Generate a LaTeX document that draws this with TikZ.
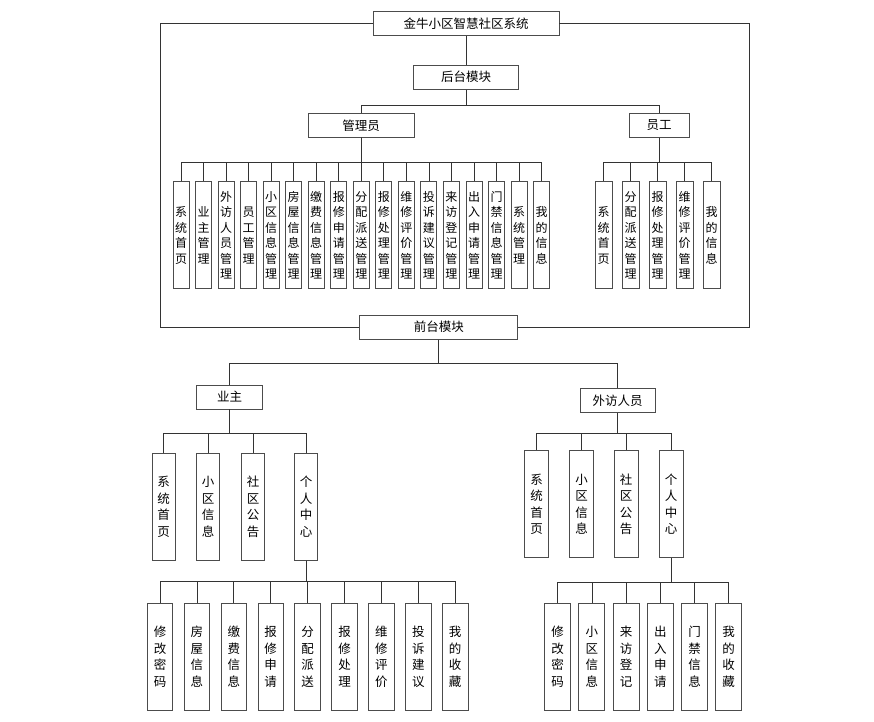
\documentclass[tikz,border=0pt]{standalone}
\usepackage{fontspec}
\setmainfont{Noto Sans CJK SC}
\usepackage{tikz}

\tikzset{
  box/.style={draw=black!70,line width=0.9pt,rectangle,inner sep=0pt,font=\fontsize{12.5}{14}\selectfont},
  vbox/.style={box,align=center,minimum height=107pt,font=\fontsize{12}{15.5}\selectfont},
  link/.style={draw=black!80,line width=0.8pt}
}

\begin{document}
\begin{tikzpicture}[x=1pt,y=-1pt]
\useasboundingbox (0,0) rectangle (874,721);
\node[box,minimum width=186pt,minimum height=24pt] (sys) at (466,23.3) {金牛小区智慧社区系统};
\node[box,minimum width=105pt,minimum height=24pt] (back) at (466,77.2) {后台模块};
\node[box,minimum width=106pt,minimum height=24pt] (adm) at (361,125.3) {管理员};
\node[box,minimum width=60pt,minimum height=24pt] (staff) at (659.2,125.3) {员工};
\node[box,minimum width=158pt,minimum height=24pt] (front) at (438.8,327.2) {前台模块};
\node[box,minimum width=66pt,minimum height=24pt] (owner) at (229.7,397) {业主};
\node[box,minimum width=75pt,minimum height=24pt] (visitor) at (617.5,400.8) {外访人员};

\coordinate (frameL) at (160,0);
\coordinate (frameR) at (749.3,0);
\draw[link] (sys.west) -| (frameL |- front.west) -- (front.west);
\draw[link] (sys.east) -| (frameR |- front.east) -- (front.east);
\draw[link] (sys.south) -- (back.north);
\draw[link] (back.south) -- ++(0,15.7) -| (adm.north);
\draw[link] (back.south) -- ++(0,15.7) -| (staff.north);
\draw[link] (front.south) -- ++(0,23.4) -| (owner.north);
\draw[link] (front.south) -- ++(0,23.4) -| (visitor.north);

\foreach \t [count=\i] in {系\\统\\首\\页,业\\主\\管\\理,外\\访\\人\\员\\管\\理,员\\工\\管\\理,
  小\\区\\信\\息\\管\\理,房\\屋\\信\\息\\管\\理,缴\\费\\信\\息\\管\\理,报\\修\\申\\请\\管\\理,
  分\\配\\派\\送\\管\\理,报\\修\\处\\理\\管\\理,维\\修\\评\\价\\管\\理,投\\诉\\建\\议\\管\\理,
  来\\访\\登\\记\\管\\理,出\\入\\申\\请\\管\\理,门\\禁\\信\\息\\管\\理,系\\统\\管\\理,我\\的\\信\\息}
{
    \node[vbox,minimum width=16pt] (a\i) at ({181+22.54*(\i-1)},235.4) {\t};
    \draw[link] (adm.south) -- ++(0,24.7) -| (a\i.north);
}

\foreach \t [count=\i] in {系\\统\\首\\页,分\\配\\派\\送\\管\\理,报\\修\\处\\理\\管\\理,维\\修\\评\\价\\管\\理,我\\的\\信\\息}
{
    \node[vbox,minimum width=17pt] (s\i) at ({603.7+27*(\i-1)},235.4) {\t};
    \draw[link] (staff.south) -- ++(0,25) -| (s\i.north);
}

\foreach \x/\t [count=\i] in {163.5/系\\统\\首\\页,208/小\\区\\信\\息,253/社\\区\\公\\告,306/个\\人\\中\\心}
{
    \node[vbox,minimum width=23pt,font=\fontsize{12.5}{16.5}\selectfont] (o\i) at (\x,506.8) {\t};
    \draw[link] (owner.south) -- ++(0,23.7) -| (o\i.north);
}

\foreach \x/\t [count=\i] in {536.5/系\\统\\首\\页,581.5/小\\区\\信\\息,626/社\\区\\公\\告,671/个\\人\\中\\心}
{
    \node[vbox,minimum width=24pt,font=\fontsize{12.5}{16.5}\selectfont] (v\i) at (\x,504.3) {\t};
    \draw[link] (visitor.south) -- ++(0,20.6) -| (v\i.north);
}

\foreach \t [count=\i] in {修\\改\\密\\码,房\\屋\\信\\息,缴\\费\\信\\息,报\\修\\申\\请,分\\配\\派\\送,
  报\\修\\处\\理,维\\修\\评\\价,投\\诉\\建\\议,我\\的\\收\\藏}
{
    \node[vbox,minimum width=25.5pt,font=\fontsize{12.5}{16.5}\selectfont] (p\i) at ({160+36.9*(\i-1)},656.7) {\t};
    \draw[link] (o4.south) -- ++(0,20.3) -| (p\i.north);
}

\foreach \t [count=\i] in {修\\改\\密\\码,小\\区\\信\\息,来\\访\\登\\记,出\\入\\申\\请,门\\禁\\信\\息,我\\的\\收\\藏}
{
    \node[vbox,minimum width=26pt,font=\fontsize{12.5}{16.5}\selectfont] (q\i) at ({557.7+34.2*(\i-1)},656.7) {\t};
    \draw[link] (v4.south) -- ++(0,24) -| (q\i.north);
}
\end{tikzpicture}
\end{document}
